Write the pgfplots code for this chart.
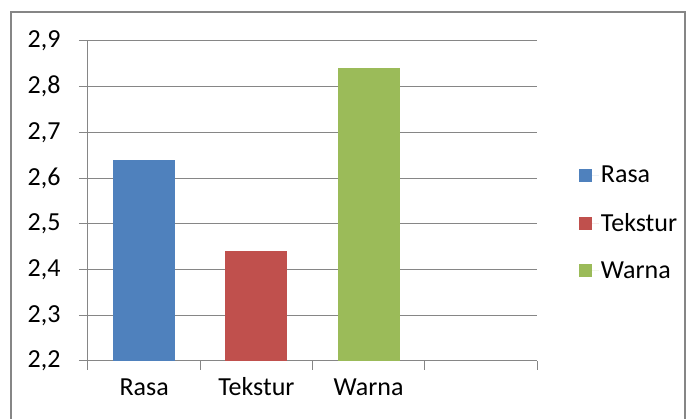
\documentclass[border=0pt]{standalone}
\usepackage{pgfplots}
\pgfplotsset{compat=1.18}
\usepackage{fontspec}
\setmainfont{Carlito}
\definecolor{cblue}{HTML}{4F81BD}
\definecolor{cred}{HTML}{C0504D}
\definecolor{cgreen}{HTML}{9BBB59}
\definecolor{cgrid}{HTML}{868686}
\begin{document}
\begin{tikzpicture}[x=1pt,y=1pt]
\begin{axis}[
  scale only axis, width=449pt, height=320pt,
  xmin=0, xmax=4, ymin=2.2, ymax=2.9,
  axis x line*=bottom, axis y line*=left,
  axis line style={cgrid, line width=1pt},
  xtick={0,1,2,3,4},
  x tick label as interval,
  xticklabels={Rasa,Tekstur,Warna,{}},
  ytick={2.2,2.3,...,2.9},
  ymajorgrids, grid style={cgrid, line width=1pt},
  major tick length=9pt,
  tick align=outside,
  tick style={cgrid, line width=1pt},
  /pgf/number format/use comma,
  /pgf/number format/fixed,
  /pgf/number format/fixed zerofill,
  /pgf/number format/precision=1,
  /pgf/number format/assume math mode=true,
  tick label style={font=\fontsize{26}{30}\selectfont, black},
  yticklabel style={xshift=-15pt},
  xticklabel style={yshift=-15pt, text height=0.65em, text depth=0.2em},
  ybar, bar width=62pt, bar shift=0pt,
  legend style={draw=none, at={(1.093,0.616)}, anchor=north west, font=\fontsize{26}{30}\selectfont, row sep=25pt, inner sep=0pt},
  legend cell align=left,
  legend image code/.code={\fill[#1] (0pt,-6.5pt) rectangle (13pt,6.5pt); \path (0pt,0pt) -- (20pt,0pt);},
]
\addplot[fill=cblue, draw=none] coordinates {(0.5,2.64)};
\addplot[fill=cred, draw=none] coordinates {(1.5,2.44)};
\addplot[fill=cgreen, draw=none] coordinates {(2.5,2.84)};
\legend{Rasa,Tekstur,Warna}
\coordinate (A) at (rel axis cs:0,0);
\end{axis}
\begin{scope}[shift={(A)}]
\draw[cgrid, line width=1.2pt] (-77,-63) rectangle (597,349);
\end{scope}
\pgfresetboundingbox
\useasboundingbox ([shift={(-88,-58)}]A) rectangle ([shift={(608,361)}]A);
\end{tikzpicture}
\end{document}
